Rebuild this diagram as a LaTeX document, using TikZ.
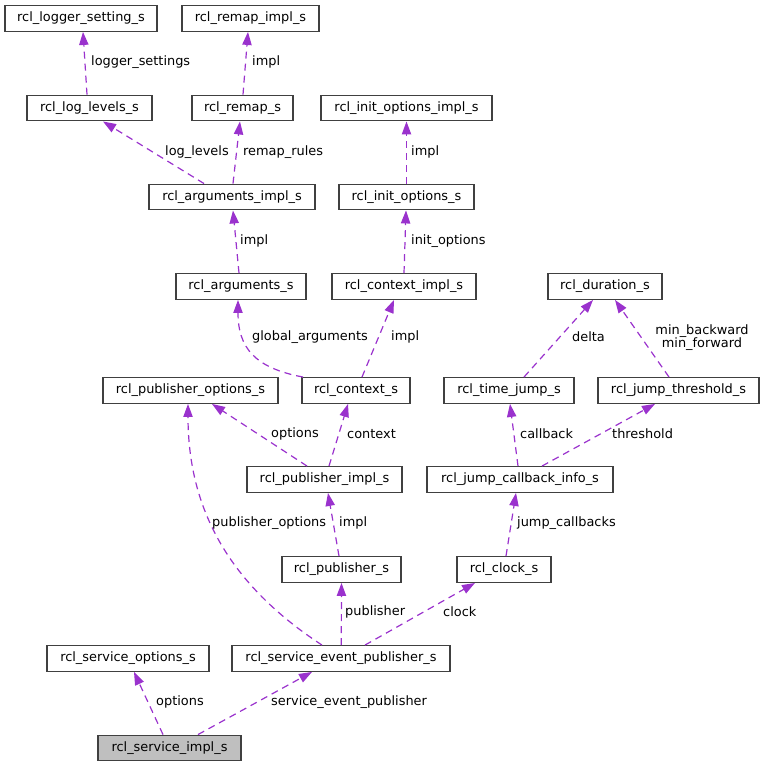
\documentclass[tikz,border=0pt]{standalone}
\usepackage{fontspec}
\setmainfont{DejaVu Sans}
\usetikzlibrary{arrows.meta}
\definecolor{edgepurple}{RGB}{154,50,205}
\definecolor{boxgray}{RGB}{64,64,64}
\definecolor{rootfill}{RGB}{191,191,191}

\begin{document}
\begin{tikzpicture}[
    x=1pt,
    y=-1pt,
    font=\fontsize{12.9}{15}\selectfont,
    struct node/.style={draw=boxgray,line width=1.4pt,fill=white,inner sep=0pt,minimum height=25.5pt},
    root node/.style={struct node,fill=rootfill},
    member/.style={draw=edgepurple,line width=1.2pt,dash pattern=on 7pt off 5pt,
      -{Triangle[length=13pt,width=9.3pt,fill=edgepurple]}},
    lbl/.style={anchor=west,inner sep=0pt}
    ]
    \useasboundingbox (0,0) rectangle (764,767);

    % structs, row by row
    \node[struct node,minimum width=152pt] (1) at (81,18.5) {rcl\_logger\_setting\_s};
    \node[struct node,minimum width=137pt] (2) at (250.5,18.5) {rcl\_remap\_impl\_s};
    \node[struct node,minimum width=125pt] (3) at (89.5,108) {rcl\_log\_levels\_s};
    \node[struct node,minimum width=101pt] (4) at (242.5,108) {rcl\_remap\_s};
    \node[struct node,minimum width=171pt] (5) at (406.5,108) {rcl\_init\_options\_impl\_s};
    \node[struct node,minimum width=166pt] (6) at (232,197) {rcl\_arguments\_impl\_s};
    \node[struct node,minimum width=135pt] (7) at (406.5,197) {rcl\_init\_options\_s};
    \node[struct node,minimum width=130pt] (8) at (241,286.5) {rcl\_arguments\_s};
    \node[struct node,minimum width=144pt] (9) at (404,286.5) {rcl\_context\_impl\_s};
    \node[struct node,minimum width=114pt] (10) at (605,286.5) {rcl\_duration\_s};
    \node[struct node,minimum width=175pt] (11) at (190.5,390.5) {rcl\_publisher\_options\_s};
    \node[struct node,minimum width=108pt] (12) at (356,390.5) {rcl\_context\_s};
    \node[struct node,minimum width=130pt] (13) at (509,390.5) {rcl\_time\_jump\_s};
    \node[struct node,minimum width=161pt] (14) at (678.5,390.5) {rcl\_jump\_threshold\_s};
    \node[struct node,minimum width=155pt] (15) at (324.5,479.5) {rcl\_publisher\_impl\_s};
    \node[struct node,minimum width=186pt] (16) at (520,479.5) {rcl\_jump\_callback\_info\_s};
    \node[struct node,minimum width=119pt] (17) at (341.5,569.5) {rcl\_publisher\_s};
    \node[struct node,minimum width=94pt] (18) at (504,569.5) {rcl\_clock\_s};
    \node[struct node,minimum width=162pt] (19) at (128,658.5) {rcl\_service\_options\_s};
    \node[struct node,minimum width=218pt] (20) at (341,658.5) {rcl\_service\_event\_publisher\_s};
    \node[root node,minimum width=143pt] (21) at (169.5,748) {rcl\_service\_impl\_s};

    % members
    \draw[member] ([xshift=-2.5pt]3.north) -- ([xshift=2pt]1.south);
    \draw[member] ([xshift=0.5pt]4.north) -- ([xshift=-2.5pt]2.south);
    \draw[member] ([xshift=-28pt]6.north) -- ([xshift=13.5pt]3.south);
    \draw[member] ([xshift=1pt]6.north) -- ([xshift=-2.5pt]4.south);
    \draw[member] (7.north) -- (5.south);
    \draw[member] (9.north) -- ([xshift=-0.5pt]7.south);
    \draw[member] ([xshift=-2pt]8.north) -- ([xshift=1pt]6.south);
    \draw[member] ([xshift=6pt]12.north) -- ([xshift=-10pt]9.south);
    \draw[member] ([xshift=-53pt]12.north) .. controls (255,368) and (238,348) .. ([xshift=-3pt]8.south);
    \draw[member] ([xshift=15pt]13.north) -- ([xshift=-12pt]10.south);
    \draw[member] ([xshift=-9.5pt]14.north) -- ([xshift=10pt]10.south);
    \draw[member] ([xshift=-17.5pt]15.north) -- ([xshift=21.5pt]11.south);
    \draw[member] ([xshift=4.5pt]15.north) -- ([xshift=-8pt]12.south);
    \draw[member] ([xshift=-2pt]16.north) -- ([xshift=1pt]13.south);
    \draw[member] ([xshift=22pt]16.north) -- ([xshift=-23.5pt]14.south);
    \draw[member] ([xshift=-2.5pt]17.north) -- ([xshift=3.5pt]15.south);
    \draw[member] ([xshift=2pt]18.north) -- ([xshift=-4pt]16.south);
    \draw[member] ([xshift=-19pt]20.north) .. controls (230,585) and (188,510) .. ([xshift=-2.5pt]11.south);
    \draw[member] ([xshift=0.25pt]20.north) -- (17.south);
    \draw[member] ([xshift=24pt]20.north) -- ([xshift=-29pt]18.south);
    \draw[member] ([xshift=-6.5pt]21.north) -- ([xshift=6pt]19.south);
    \draw[member] ([xshift=28.5pt]21.north) -- ([xshift=-29pt]20.south);

    % field names
    \node[lbl] (e1) at (91,62) {logger\_settings};
    \node[lbl] (e2) at (252,62) {impl};
    \node[lbl] (e3) at (165,152) {log\_levels};
    \node[lbl] (e4) at (243,152) {remap\_rules};
    \node[lbl] (e5) at (411,152) {impl};
    \node[lbl] (e6) at (411,241) {init\_options};
    \node[lbl] (e7) at (240,241) {impl};
    \node[lbl] (e8) at (252,337) {global\_arguments};
    \node[lbl] (e9) at (391,337) {impl};
    \node[lbl] (e10) at (572,337) {delta};
    \node[align=center,inner sep=0pt,font=\fontsize{12.9}{13}\selectfont] (e11) at (702,337.5) {min\_backward\\min\_forward};
    \node[lbl] (e12) at (271,434) {options};
    \node[lbl] (e13) at (347,434) {context};
    \node[lbl] (e14) at (520,434) {callback};
    \node[lbl] (e15) at (612,434) {threshold};
    \node[lbl] (e16) at (212,523) {publisher\_options};
    \node[lbl] (e17) at (339,523) {impl};
    \node[lbl] (e18) at (517,523) {jump\_callbacks};
    \node[lbl] (e19) at (345,612) {publisher};
    \node[lbl] (e20) at (443,612) {clock};
    \node[lbl] (e21) at (156,702) {options};
    \node[lbl] (e22) at (271,702) {service\_event\_publisher};
\end{tikzpicture}
\end{document}
